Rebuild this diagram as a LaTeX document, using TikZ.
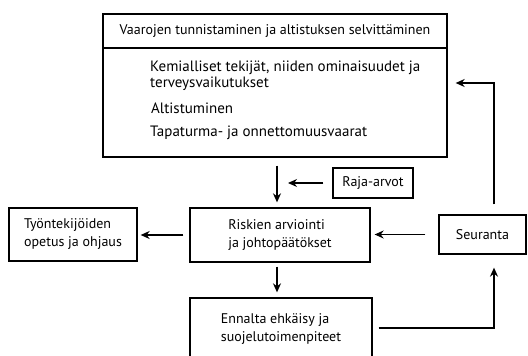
\documentclass[tikz,border=0pt]{standalone}
\usepackage{fontspec}
\setmainfont{PT Sans}
\usetikzlibrary{arrows.meta}

\tikzset{
  box/.style={draw, line width=1.3pt, inner sep=0pt, align=left,
    font=\fontsize{14}{18}\selectfont},
  txt/.style={inner sep=0pt, align=left, font=\fontsize{15}{16}\selectfont},
  flow/.style={->, line width=1.3pt},
}

\begin{document}
\begin{tikzpicture}
  [
    x=1pt, y=-1pt,
    >={Stealth[length=9pt,width=8pt]},
  ]
  \useasboundingbox (0,0) rectangle (528,356);
  \clip (0,0) rectangle (528,356);

  % top box with heading
  \node [box, minimum width=344pt, minimum height=143pt] (vaarat) at (275,85.5) {};
  \draw [line width=1.3pt] (vaarat.west |- 0,48) -- (vaarat.east |- 0,48);
  \node [txt, font=\fontsize{14}{16}\selectfont] (otsikko) at (275,31) {Vaarojen tunnistaminen ja altistuksen selvittäminen};
  \node [txt, anchor=west] (kemia) at (150,75.5) {Kemialliset tekijät, niiden ominaisuudet ja\\terveysvaikutukset};
  \node [txt, anchor=west] (altistus) at (151,108) {Altistuminen};
  \node [txt, anchor=west] (tapaturma) at (150,133) {Tapaturma- ja onnettomuusvaarat};

  % the other boxes
  \node [box, minimum width=80pt, minimum height=30pt] (raja) at (373,183) {Raja-arvot};
  \node [box, minimum width=180pt, minimum height=54pt] (riskit) at (280,235) {Riskien arviointi\\ja johtopäätökset};
  \node [box, minimum width=128pt, minimum height=53pt] (opetus) at (73,234.5) {Työntekijöiden\\opetus ja ohjaus};
  \node [box, minimum width=87pt, minimum height=39pt] (seuranta) at (482.5,234.5) {Seuranta};
  \node [box, minimum width=182pt, minimum height=63pt] (ennalta) at (281,329.5) {Ennalta ehkäisy ja\\suojelutoimenpiteet};

  \coordinate (raja kohde) at (288,183);
  \coordinate (kulma1) at (494,328);
  \coordinate (kulma2) at (494,83);

  % arrows
  \draw [flow, shorten <=8pt, shorten >=5pt] (vaarat.south -| 277,0) -- (riskit.north -| 277,0);
  \draw [flow, shorten <=9pt] (raja.west) -- (raja kohde);
  \draw [flow, shorten <=6pt, shorten >=3pt] (riskit.west) -- (opetus.east |- riskit.west);
  \draw [flow, shorten <=13pt, shorten >=4pt] (seuranta.west) -- (riskit.east |- seuranta.west);
  \draw [flow, shorten <=4pt, shorten >=5pt] (riskit.south -| 277,0) -- (ennalta.north -| 277,0);
  \draw [flow, shorten <=6pt, shorten >=13pt] (ennalta.east |- kulma1) -- (kulma1) -- (kulma1 |- seuranta.south);
  \draw [flow, shorten <=10pt, shorten >=8pt] (kulma2 |- seuranta.north) -- (kulma2) -- (vaarat.east |- kulma2);
\end{tikzpicture}
\end{document}
